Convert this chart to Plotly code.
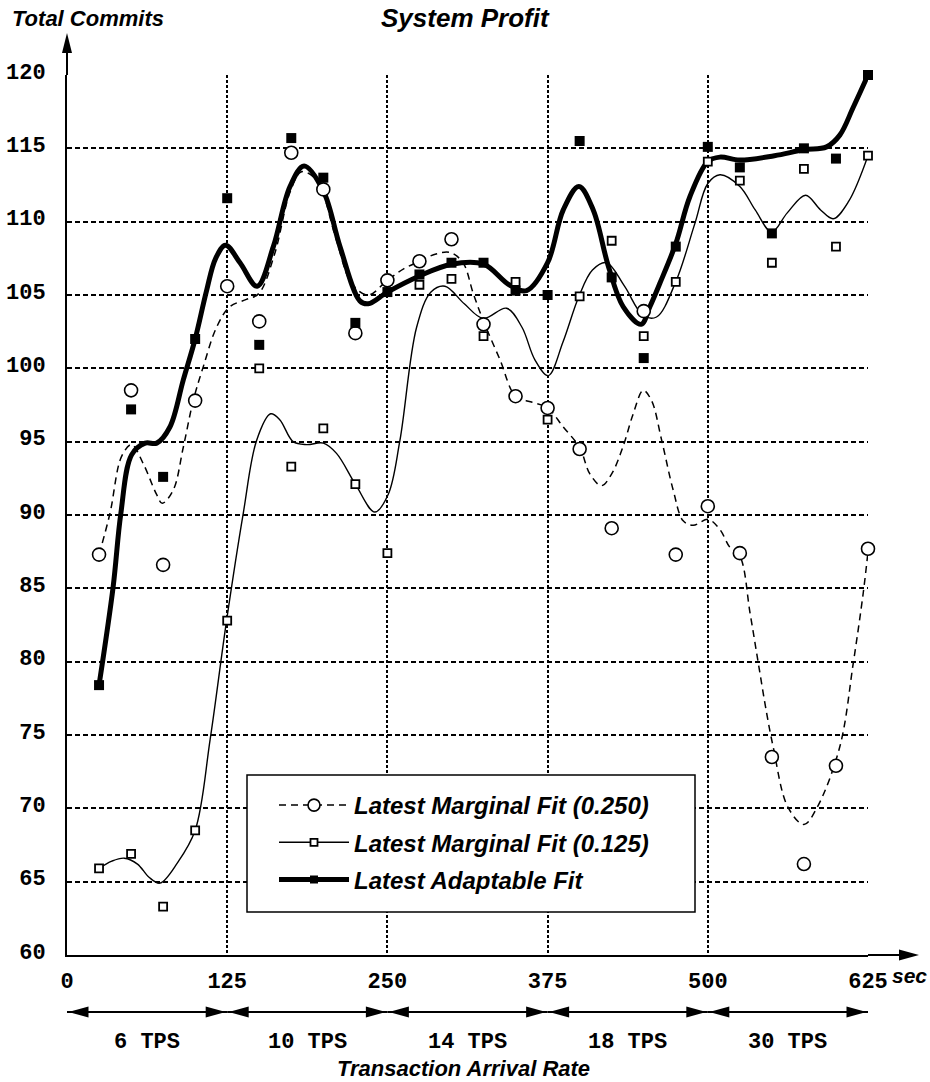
import plotly.graph_objects as go

# ---------------- data ----------------
sample_t = [25, 50, 75, 100, 125, 150, 175, 200, 225, 250, 275, 300, 325,
            350, 375, 400, 425, 450, 475, 500, 525, 550, 575, 600, 625]
marginal_250 = [87.3, 98.5, 86.6, 97.8, 105.6, 103.2, 114.7, 112.2, 102.4, 106.0,
                107.3, 108.8, 103.0, 98.1, 97.3, 94.5, 89.1, 103.9, 87.3, 90.6,
                87.4, 73.5, 66.2, 72.9, 87.7]
marginal_125 = [65.9, 66.9, 63.3, 68.5, 82.8, 100.0, 93.3, 95.9, 92.1, 87.4,
                105.7, 106.1, 102.2, 105.9, 96.5, 104.9, 108.7, 102.2, 105.9, 114.1,
                112.8, 107.2, 113.6, 108.3, 114.5]
adaptable = [78.4, 97.2, 92.6, 102.0, 111.6, 101.6, 115.7, 113.0, 103.1, 105.2,
             106.4, 107.2, 107.2, 105.3, 105.0, 115.5, 106.2, 100.7, 108.3, 115.1,
             113.7, 109.2, 115.0, 114.3, 120.0]

# fitted curves
fit250_t = [25, 33.5, 42.6, 50.4, 59.5, 69.9, 74.3, 82.9, 90.7, 98.5, 106.3, 116.7,
            127, 140, 149.7, 162, 174, 183, 195, 210, 222, 235, 250, 263, 275, 288,
            299, 309, 317, 325, 337.8, 350, 362.5, 375, 387.2, 400, 408, 417, 425,
            434, 441.8, 449.6, 456.1, 464, 473, 480.8, 488.6, 500.3, 509.5, 517.2,
            525, 533, 539.4, 545.9, 551, 562.4, 575, 585.5, 603, 613.5, 621.3, 625]
fit250_v = [87.3, 90.1, 94.0, 94.8, 93.5, 91.4, 90.8, 91.7, 94.6, 97.8, 100.1, 102.8,
            104.2, 104.7, 105.1, 107.8, 112.0, 113.4, 112.8, 108.8, 105.8, 105.0, 106.0,
            106.8, 107.3, 107.8, 107.9, 107.2, 105.1, 103.2, 100.6, 98.1, 97.7, 97.3,
            96.0, 94.6, 92.8, 92.0, 92.8, 94.7, 96.9, 98.5, 97.8, 95.1, 91.7, 89.6,
            89.3, 89.7, 89.0, 87.8, 87.2, 83.3, 79.9, 76.5, 74.2, 70.1, 68.9, 70.1,
            74.2, 79.9, 84.7, 87.5]

fit125_t = [25, 35, 44.7, 55, 64, 72.5, 86.3, 100, 111.7, 124.5, 137.5, 148, 158.9,
            166, 176.5, 187, 200, 210.3, 225, 240.2, 250.6, 259.8, 272.8, 284, 294.9,
            310, 324.8, 343, 355, 365, 375.5, 387, 399.4, 410, 421, 435, 449.6, 460,
            475, 490, 500, 509.5, 525, 537, 549.8, 562, 576.3, 588, 597.9, 610, 625]
fit125_v = [65.9, 66.4, 66.6, 66.2, 65.3, 64.9, 66.3, 68.5, 74.7, 82.8, 90.1, 95.1,
            96.9, 96.5, 95.0, 94.8, 94.9, 94.2, 92.1, 90.2, 91.4, 95.1, 102.8, 105.2,
            105.6, 104.4, 103.4, 104.1, 102.8, 100.6, 99.5, 101.8, 104.9, 106.7, 107.2,
            105.6, 103.6, 103.5, 105.9, 109.9, 112.6, 113.2, 112.4, 110.8, 109.3, 110.6,
            111.8, 110.8, 110.2, 111.4, 114.5]

fitadp_t = [25, 36, 42, 50.4, 61, 70, 80.3, 90.7, 100, 108.9, 116, 123.7, 135, 148.4,
            161, 174, 185, 200, 213, 228.5, 235, 250, 275, 300, 325, 345, 358.6, 375,
            387.2, 399.4, 410.6, 422.3, 434, 448, 454.8, 462.6, 475, 486, 500, 509.4,
            525, 552, 575, 592.7, 603, 613.5, 625]
fitadp_v = [78.4, 85.1, 90.1, 94.1, 94.9, 94.9, 96.0, 99.2, 102.0, 105.3, 107.5, 108.4,
            107.2, 105.6, 108.3, 112.4, 113.8, 112.1, 108.3, 104.6, 104.4, 105.2, 106.3,
            107.1, 107.1, 105.7, 105.3, 107.2, 110.8, 112.4, 110.8, 107.0, 104.2, 103.0,
            104.2, 105.8, 108.5, 111.7, 114.1, 114.4, 114.2, 114.5, 114.9, 115.1, 115.9,
            117.8, 120.0]

series_names = ["Latest Marginal Fit (0.250)", "Latest Marginal Fit (0.125)",
                "Latest Adaptable Fit"]
x_ticks = [0, 125, 250, 375, 500, 625]
y_ticks = [60, 65, 70, 75, 80, 85, 90, 95, 100, 105, 110, 115, 120]
rate_bounds = [0, 125, 250, 375, 500, 625]
rate_labels = ["6 TPS", "10 TPS", "14 TPS", "18 TPS", "30 TPS"]

# ---------------- styling ----------------
W, H = 930, 1082
ML, MR, MT, MB = 67, 62, 75, 127
PW, PH = W - ML - MR, H - MT - MB
SANS = "Liberation Sans, Arial, sans-serif"
MONO = "Liberation Mono, Courier New, monospace"


def px2paper_x(px):
    return (px - ML) / PW


def px2paper_y(py):
    return (H - MB - py) / PH


fig = go.Figure()

# curves
fig.add_trace(go.Scatter(x=fit250_t, y=fit250_v, mode="lines", showlegend=False,
                         line=dict(color="black", width=1.5, dash="7px,5px",
                                   shape="spline", smoothing=1.0)))
fig.add_trace(go.Scatter(x=fit125_t, y=fit125_v, mode="lines", showlegend=False,
                         line=dict(color="black", width=1.4, shape="spline", smoothing=1.0)))
fig.add_trace(go.Scatter(x=fitadp_t, y=fitadp_v, mode="lines", showlegend=False,
                         line=dict(color="black", width=5, shape="spline", smoothing=1.0)))

# sample points
fig.add_trace(go.Scatter(x=sample_t, y=marginal_250, mode="markers", showlegend=False,
                         cliponaxis=False,
                         marker=dict(symbol="circle", size=13, color="white",
                                     line=dict(color="black", width=1.6))))
fig.add_trace(go.Scatter(x=sample_t, y=marginal_125, mode="markers", showlegend=False,
                         cliponaxis=False,
                         marker=dict(symbol="square", size=8, color="white",
                                     line=dict(color="black", width=1.8))))
fig.add_trace(go.Scatter(x=sample_t, y=adaptable, mode="markers", showlegend=False,
                         cliponaxis=False,
                         marker=dict(symbol="square", size=10, color="black",
                                     line=dict(color="black", width=0))))

# legend entries
fig.add_trace(go.Scatter(x=[None], y=[None], mode="lines+markers", name=series_names[0],
                         legendgroup="a",
                         line=dict(color="black", width=1.5, dash="7px,5px"),
                         marker=dict(symbol="circle", size=12, color="white",
                                     line=dict(color="black", width=1.6))))
fig.add_trace(go.Scatter(x=[None], y=[None], mode="lines+markers", name=series_names[1],
                         legendgroup="b",
                         line=dict(color="black", width=1.4),
                         marker=dict(symbol="square", size=7, color="white",
                                     line=dict(color="black", width=1.8))))
fig.add_trace(go.Scatter(x=[None], y=[None], mode="lines+markers", name=series_names[2],
                         legendgroup="c",
                         line=dict(color="black", width=5),
                         marker=dict(symbol="square", size=8, color="black")))

shapes = []
# legend frame
shapes.append(dict(type="rect", xref="paper", yref="paper",
                   x0=px2paper_x(247), x1=px2paper_x(695),
                   y0=px2paper_y(912), y1=px2paper_y(775),
                   fillcolor="white", line=dict(color="black", width=1.5), layer="above"))
# axis extensions with arrows
shapes.append(dict(type="line", xref="paper", yref="paper", x0=1, x1=px2paper_x(905),
                   y0=0, y1=0, line=dict(color="black", width=2)))
shapes.append(dict(type="path", xref="paper", yref="paper", xsizemode="pixel",
                   ysizemode="pixel", xanchor=px2paper_x(919), yanchor=0,
                   path="M0,0 L-20,5.5 L-20,-5.5 Z", fillcolor="black",
                   line=dict(color="black", width=0)))
shapes.append(dict(type="line", xref="paper", yref="paper", x0=0, x1=0,
                   y0=1, y1=px2paper_y(45), line=dict(color="black", width=2)))
shapes.append(dict(type="path", xref="paper", yref="paper", xsizemode="pixel",
                   ysizemode="pixel", xanchor=0, yanchor=px2paper_y(33),
                   path="M0,0 L5,-20 L-5,-20 Z", fillcolor="black",
                   line=dict(color="black", width=0)))

# rate band arrows under the axis
arrow_y = px2paper_y(1012)
for a, b in zip(rate_bounds[:-1], rate_bounds[1:]):
    shapes.append(dict(type="line", xref="x", yref="paper", x0=a, x1=b,
                       y0=arrow_y, y1=arrow_y, line=dict(color="black", width=2)))
    shapes.append(dict(type="path", xref="x", yref="paper", xsizemode="pixel",
                       ysizemode="pixel", xanchor=a, yanchor=arrow_y,
                       path="M1.5,0 L21.5,5.5 L21.5,-5.5 Z", fillcolor="black",
                       line=dict(color="black", width=0)))
    shapes.append(dict(type="path", xref="x", yref="paper", xsizemode="pixel",
                       ysizemode="pixel", xanchor=b, yanchor=arrow_y,
                       path="M-1.5,0 L-21.5,5.5 L-21.5,-5.5 Z", fillcolor="black",
                       line=dict(color="black", width=0)))

annotations = []
bold_italic = dict(family=SANS, color="black", weight="bold", style="italic")
annotations.append(dict(text="Total Commits", xref="paper", yref="paper",
                        x=px2paper_x(88), y=px2paper_y(19), showarrow=False,
                        xanchor="center", yanchor="middle", font=dict(size=22, **bold_italic)))
annotations.append(dict(text="System Profit", xref="paper", yref="paper",
                        x=px2paper_x(465), y=px2paper_y(18), showarrow=False,
                        xanchor="center", yanchor="middle", font=dict(size=26, **bold_italic)))
annotations.append(dict(text="sec", xref="paper", yref="paper",
                        x=px2paper_x(890), y=px2paper_y(975), showarrow=False,
                        xanchor="left", yanchor="middle", font=dict(size=21, **bold_italic)))
annotations.append(dict(text="Transaction Arrival Rate", xref="paper", yref="paper",
                        x=px2paper_x(463), y=px2paper_y(1068), showarrow=False,
                        xanchor="center", yanchor="middle", font=dict(size=22, **bold_italic)))
for a, b, lab in zip(rate_bounds[:-1], rate_bounds[1:], rate_labels):
    annotations.append(dict(text=lab, xref="x", yref="paper", x=(a + b) / 2,
                            y=px2paper_y(1042), showarrow=False, xanchor="center",
                            yanchor="middle",
                            font=dict(family=MONO, size=22, color="black", weight="bold")))

fig.update_layout(
    width=W, height=H,
    margin=dict(l=ML, r=MR, t=MT, b=MB, pad=0, autoexpand=False),
    paper_bgcolor="white", plot_bgcolor="white",
    shapes=shapes, annotations=annotations,
    showlegend=True,
    legend=dict(x=px2paper_x(274), y=px2paper_y(783), xanchor="left", yanchor="top",
                bgcolor="rgba(0,0,0,0)", borderwidth=0, itemwidth=70,
                tracegroupgap=3,
                font=dict(size=24, **bold_italic)),
    hovermode=False,
)
fig.update_xaxes(range=[0, 625], tickvals=x_ticks, ticktext=[str(v) for v in x_ticks],
                 showline=True, linecolor="black", linewidth=2, ticks="",
                 showgrid=True, gridcolor="black", gridwidth=1.8, griddash="3px,2px",
                 zeroline=False, ticklabelstandoff=5, automargin=False,
                 tickfont=dict(family=MONO, size=22, color="black", weight="bold"))
fig.update_yaxes(range=[60, 120], tickvals=y_ticks, ticktext=[str(v) for v in y_ticks],
                 showline=True, linecolor="black", linewidth=2, ticks="",
                 showgrid=True, gridcolor="black", gridwidth=1.6, griddash="5px,3px",
                 zeroline=False, ticklabelstandoff=15, ticklabelshift=-4, automargin=False,
                 tickfont=dict(family=MONO, size=22, color="black", weight="bold"))

fig.write_html("out.html")
